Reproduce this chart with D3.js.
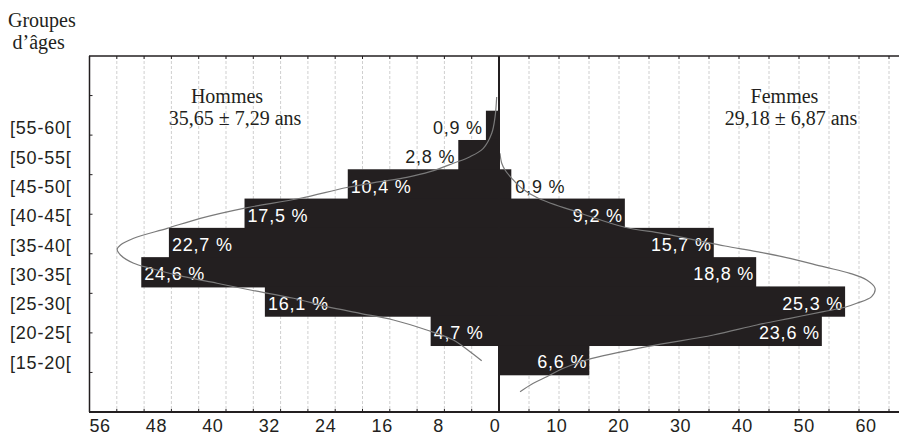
<!DOCTYPE html>
<html><head><meta charset="utf-8">
<script src="https://cdn.jsdelivr.net/npm/d3@7"></script>
<style>
html,body{margin:0;padding:0;background:#fff;}
svg{display:block;}
.sans{font-family:"Liberation Sans",Arial,sans-serif;}
.serif{font-family:"Liberation Serif","Times New Roman",serif;}
</style>
</head><body>
<svg id="chart" width="899" height="437"></svg>
<script>
// ---- data ----
const ageGroups = ["[55-60[","[50-55[","[45-50[","[40-45[","[35-40[","[30-35[","[25-30[","[20-25[","[15-20["];
const menPct   = [0.9, 2.8, 10.4, 17.5, 22.7, 24.6, 16.1, 4.7, 0];
const womenPct = [0, 0, 0.9, 9.2, 15.7, 18.8, 25.3, 23.6, 6.6];
const leftTickLabels  = [56, 48, 40, 32, 24, 16, 8, 0];
const rightTickLabels = [10, 20, 30, 40, 50, 60];
const menTitle = "Hommes", menStats = "35,65 ± 7,29 ans";
const womenTitle = "Femmes", womenStats = "29,18 ± 6,87 ans";
// fitted curves (age in years, value in %)
const menCurveAge = [62.34,58.98,56.14,53.58,52.15,51.02,49.59,48.63,47.88,46.89,45.05,43.34,41.63,39.92,38.22,37.07,36.31,35.37,33.95,33.10,31.66,30.54,29.39,27.98,26.54,25.41,24.27,22.56,20.86,18.86,17.32];
const menCurvePct = [0.16,0.27,0.50,1.08,1.99,3.14,4.74,6.34,8.17,10.46,13.67,17.56,20.54,22.82,25.12,26.03,26.26,26.03,25.12,23.97,21.68,19.39,17.10,14.13,11.83,9.55,7.26,4.97,3.14,1.99,1.19];
const womenCurveAge = [52.73,51.02,49.88,48.46,46.75,45.05,42.54,40.10,39.07,37.93,36.90,35.93,34.80,33.37,32.24,31.10,29.68,28.25,27.12,26.44,25.69,24.56,23.42,21.71,19.71,17.44,16.03,14.59,13.47,12.03];
const womenCurvePct = [0.07,0.20,0.44,0.93,1.66,2.87,5.92,9.21,11.89,14.33,16.52,18.84,21.27,23.71,25.66,26.88,27.49,27.24,26.15,25.29,23.71,21.27,18.84,15.67,10.80,6.41,4.70,3.49,2.51,1.54];

// ---- layout ----
const svg = d3.select("#chart");
const X0 = 499, LEFT = 89.5, RIGHT = 899, TOP = 56, BOTTOM = 412;
const barColor = "#231f20";

const xMen = d3.scaleLinear().domain([0, 28.16]).range([X0, LEFT]);
const xWomen = d3.scaleLinear().domain([0, 29.24]).range([X0, RIGHT]);
const yBand = d3.scaleBand().domain(ageGroups).range([110.7, 374.3]).paddingInner(0);
const yAge = d3.scaleLinear().domain([60, 15]).range([110.7, 374.3]);
const countL = d3.scaleLinear().domain([0, 56]).range([495, 100]);
const countR = d3.scaleLinear().domain([0, 60]).range([495, 866]);
const gridL = d3.scaleLinear().domain([0, 15]).range([X0, LEFT]);
const gridR = d3.scaleLinear().domain([0, 13]).range([X0, 889]);
const yFrame = d3.scaleLinear().domain([0, 9]).range([TOP, BOTTOM]);

const gridXs = d3.range(1, 15).map(gridL).concat(d3.range(1, 14).map(gridR));

// gridlines
svg.append("g").selectAll("line").data(gridXs).join("line")
  .attr("x1", d => d).attr("x2", d => d).attr("y1", TOP).attr("y2", BOTTOM)
  .attr("stroke", "#cfcfcf").attr("stroke-width", 1).attr("stroke-dasharray", "3,2");

// bars
const fmt = v => d3.format(".1f")(v).replace(".", ",") + " %";
const men = ageGroups.map((g, i) => ({g, v: menPct[i]})).filter(d => d.v > 0);
const women = ageGroups.map((g, i) => ({g, v: womenPct[i]})).filter(d => d.v > 0);

svg.append("g").selectAll("rect").data(men).join("rect")
  .attr("x", d => xMen(d.v)).attr("width", d => X0 - xMen(d.v))
  .attr("y", d => yBand(d.g)).attr("height", yBand.bandwidth() + 1)
  .attr("fill", barColor);
svg.append("g").selectAll("rect").data(women).join("rect")
  .attr("x", X0).attr("width", d => xWomen(d.v) - X0)
  .attr("y", d => yBand(d.g)).attr("height", yBand.bandwidth() + 1)
  .attr("fill", barColor);

// bar labels
const small = 4;
svg.append("g").attr("class", "sans").selectAll("text").data(men).join("text")
  .attr("x", d => d.v < small ? xMen(d.v) - 3 : xMen(d.v) + 3)
  .attr("y", d => yBand(d.g) + yBand.bandwidth() - 6)
  .attr("text-anchor", d => d.v < small ? "end" : "start")
  .attr("fill", d => d.v < small ? "#231f20" : "#fff")
  .style("font-size", "18px").style("letter-spacing", "0.8px")
  .text(d => fmt(d.v));
svg.append("g").attr("class", "sans").selectAll("text").data(women).join("text")
  .attr("x", d => d.v < small ? xWomen(d.v) + 4 : xWomen(d.v) - 2)
  .attr("y", d => yBand(d.g) + yBand.bandwidth() - 6)
  .attr("text-anchor", d => d.v < small ? "start" : "end")
  .attr("fill", d => d.v < small ? "#231f20" : "#fff")
  .style("font-size", "18px").style("letter-spacing", "0.8px")
  .text(d => fmt(d.v));

// curves
const menLine = d3.line().x((d, i) => xMen(menCurvePct[i])).y((d, i) => yAge(menCurveAge[i])).curve(d3.curveCatmullRom.alpha(0.5));
const womenLine = d3.line().x((d, i) => xWomen(womenCurvePct[i])).y((d, i) => yAge(womenCurveAge[i])).curve(d3.curveCatmullRom.alpha(0.5));
svg.append("path").attr("d", menLine(menCurveAge)).attr("fill", "none").attr("stroke", "#7a7a7a").attr("stroke-width", 1.2);
svg.append("path").attr("d", womenLine(womenCurveAge)).attr("fill", "none").attr("stroke", "#7a7a7a").attr("stroke-width", 1.2);

// frame
const frame = svg.append("g").attr("stroke", "#231f20").attr("fill", "none");
frame.append("line").attr("x1", LEFT - 0.5).attr("x2", RIGHT).attr("y1", TOP).attr("y2", TOP).attr("stroke-width", 1.5);
frame.append("line").attr("x1", LEFT - 0.5).attr("x2", RIGHT).attr("y1", BOTTOM).attr("y2", BOTTOM).attr("stroke-width", 2);
frame.append("line").attr("x1", LEFT).attr("x2", LEFT).attr("y1", TOP).attr("y2", BOTTOM).attr("stroke-width", 1.5);
frame.append("line").attr("x1", X0).attr("x2", X0).attr("y1", TOP).attr("y2", BOTTOM).attr("stroke-width", 2);
// small inward ticks
frame.append("g").selectAll("line").data(gridXs).join("line")
  .attr("x1", d => d).attr("x2", d => d).attr("y1", TOP).attr("y2", TOP + 3).attr("stroke-width", 1);
frame.append("g").selectAll("line").data(gridXs).join("line")
  .attr("x1", d => d).attr("x2", d => d).attr("y1", BOTTOM).attr("y2", BOTTOM - 3).attr("stroke-width", 1);
frame.append("g").selectAll("line").data(d3.range(1, 9)).join("line")
  .attr("x1", LEFT).attr("x2", LEFT + 3).attr("y1", d => yFrame(d)).attr("y2", d => yFrame(d)).attr("stroke-width", 1);

// axis labels
const axisG = svg.append("g").attr("class", "sans").style("font-size", "18px").style("letter-spacing", "0.6px").attr("fill", "#231f20");
axisG.selectAll("text.l").data(leftTickLabels).join("text").attr("class", "l")
  .attr("x", d => countL(d)).attr("y", 432).attr("text-anchor", "middle").text(d => d);
axisG.selectAll("text.r").data(rightTickLabels).join("text").attr("class", "r")
  .attr("x", d => countR(d)).attr("y", 432).attr("text-anchor", "middle").text(d => d);

// age group labels
svg.append("g").attr("class", "sans").style("font-size", "18px").style("letter-spacing", "0.8px").attr("fill", "#231f20")
  .selectAll("text").data(ageGroups).join("text")
  .attr("x", 10).attr("y", d => yBand(d) + yBand.bandwidth() / 2 + 9).text(d => d);

// titles
const serif = svg.append("g").attr("class", "serif").style("font-size", "20px").attr("fill", "#231f20");
serif.append("text").attr("x", 8).attr("y", 27).text("Groupes");
serif.append("text").attr("x", 12.5).attr("y", 48.5).text("d’âges");
serif.append("text").attr("x", 227).attr("y", 102.5).attr("text-anchor", "middle").text(menTitle);
serif.append("text").attr("x", 235).attr("y", 125).attr("text-anchor", "middle").text(menStats);
serif.append("text").attr("x", 784.5).attr("y", 102.5).attr("text-anchor", "middle").text(womenTitle);
serif.append("text").attr("x", 791).attr("y", 125).attr("text-anchor", "middle").text(womenStats);
</script>
</body></html>
